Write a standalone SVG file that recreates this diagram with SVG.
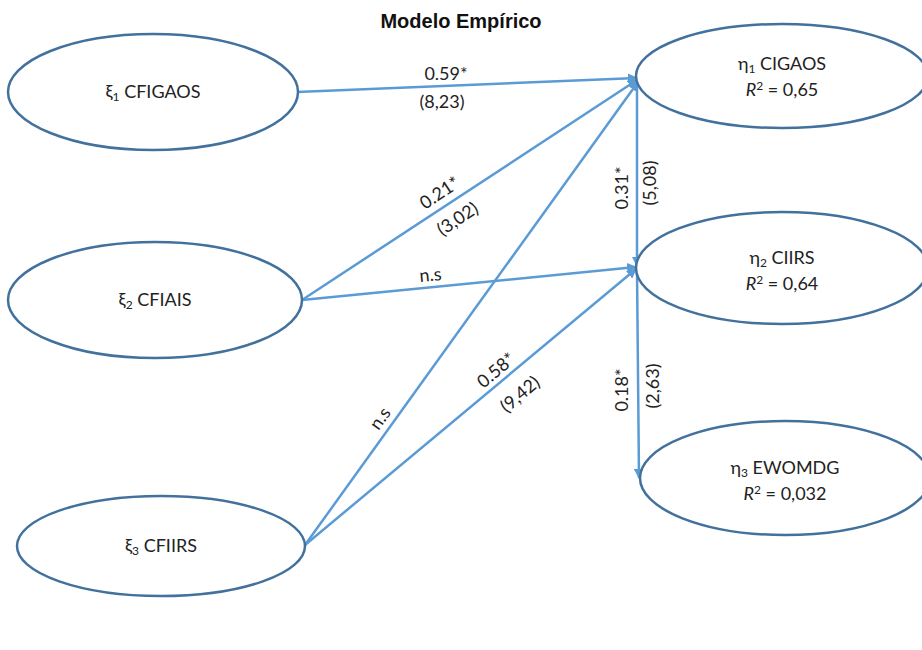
<svg xmlns="http://www.w3.org/2000/svg" width="922" height="650" viewBox="0 0 922 650">
<style>
.node ellipse{fill:#fff;stroke:#41719c;stroke-width:2.5}
.t{font-family:Lato,"Open Sans",sans-serif;font-size:18px;fill:#222;text-anchor:middle}
.lbl{font-family:Lato,"Open Sans",sans-serif;font-size:18px;fill:#222;text-anchor:middle}
.c line{stroke:#5b9bd5;stroke-width:2.5;fill:none}
.title{font-family:"Liberation Sans",Arial,sans-serif;font-size:20px;font-weight:bold;fill:#111;text-anchor:middle}
</style>
<defs>
<marker id="ah" viewBox="0 0 10 10" refX="9" refY="5" markerWidth="4" markerHeight="4" orient="auto" markerUnits="strokeWidth">
<path d="M0,0 L10,5 L0,10 z" fill="#5b9bd5"/>
</marker>
</defs>
<rect width="922" height="650" fill="#fff"/>
<text class="title" x="461" y="28">Modelo Empírico</text>

<g class="c" id="connectors">
<line x1="297" y1="92" x2="637" y2="78" marker-end="url(#ah)"/>
<line x1="302" y1="300" x2="637" y2="80" marker-end="url(#ah)"/>
<line x1="302" y1="300" x2="636" y2="267" marker-end="url(#ah)"/>
<line x1="305" y1="545" x2="638" y2="82" marker-end="url(#ah)"/>
<line x1="305" y1="545" x2="636" y2="269" marker-end="url(#ah)"/>
<line x1="637" y1="80" x2="637" y2="266" marker-end="url(#ah)"/>
<line x1="637" y1="270" x2="639" y2="478" marker-end="url(#ah)"/>
</g>

<g id="edge-labels">
<text class="lbl" x="446" y="80">0.59*</text>
<text class="lbl" x="442" y="108">(8,23)</text>
<text class="lbl" transform="translate(443,198) rotate(-33.5)">0.21*</text>
<text class="lbl" transform="translate(461,224) rotate(-33.5)">(3,02)</text>
<text class="lbl" transform="translate(431,281) rotate(-5.5)">n.s</text>
<text class="lbl" transform="translate(385,422) rotate(-54.5)">n.s</text>
<text class="lbl" transform="translate(500,375) rotate(-40)">0.58*</text>
<text class="lbl" transform="translate(524,399) rotate(-40)">(9,42)</text>
<text class="lbl" transform="translate(628,188) rotate(-90)">0.31*</text>
<text class="lbl" transform="translate(656,183) rotate(-90)">(5,08)</text>
<text class="lbl" transform="translate(628,390) rotate(-90)">0.18*</text>
<text class="lbl" transform="translate(659,386) rotate(-90)">(2,63)</text>
</g>

<g class="node" id="xi1">
<ellipse cx="153" cy="92" rx="145" ry="58"/>
<text class="t" x="153" y="98">ξ<tspan font-size="12" dy="3">1</tspan><tspan dy="-3"> CFIGAOS</tspan></text>
</g>
<g class="node" id="xi2">
<ellipse cx="155" cy="300" rx="147" ry="58"/>
<text class="t" x="155" y="306">ξ<tspan font-size="12" dy="3">2</tspan><tspan dy="-3"> CFIAIS</tspan></text>
</g>
<g class="node" id="xi3">
<ellipse cx="161" cy="546" rx="144" ry="50"/>
<text class="t" x="161" y="552">ξ<tspan font-size="12" dy="3">3</tspan><tspan dy="-3"> CFIIRS</tspan></text>
</g>
<g class="node" id="eta1">
<ellipse cx="782" cy="76" rx="146" ry="52"/>
<text class="t" x="782" y="70">η<tspan font-size="12" dy="3">1</tspan><tspan dy="-3"> CIGAOS</tspan></text>
<text class="t" x="782" y="96"><tspan font-style="italic">R</tspan><tspan font-size="12" dy="-6">2</tspan><tspan dy="6"> = 0,65</tspan></text>
</g>
<g class="node" id="eta2">
<ellipse cx="782" cy="268" rx="146" ry="56"/>
<text class="t" x="782" y="264">η<tspan font-size="12" dy="3">2</tspan><tspan dy="-3"> CIIRS</tspan></text>
<text class="t" x="782" y="290"><tspan font-style="italic">R</tspan><tspan font-size="12" dy="-6">2</tspan><tspan dy="6"> = 0,64</tspan></text>
</g>
<g class="node" id="eta3">
<ellipse cx="785" cy="478" rx="145" ry="57"/>
<text class="t" x="785" y="474">η<tspan font-size="12" dy="3">3</tspan><tspan dy="-3"> EWOMDG</tspan></text>
<text class="t" x="785" y="500"><tspan font-style="italic">R</tspan><tspan font-size="12" dy="-6">2</tspan><tspan dy="6"> = 0,032</tspan></text>
</g>
</svg>
